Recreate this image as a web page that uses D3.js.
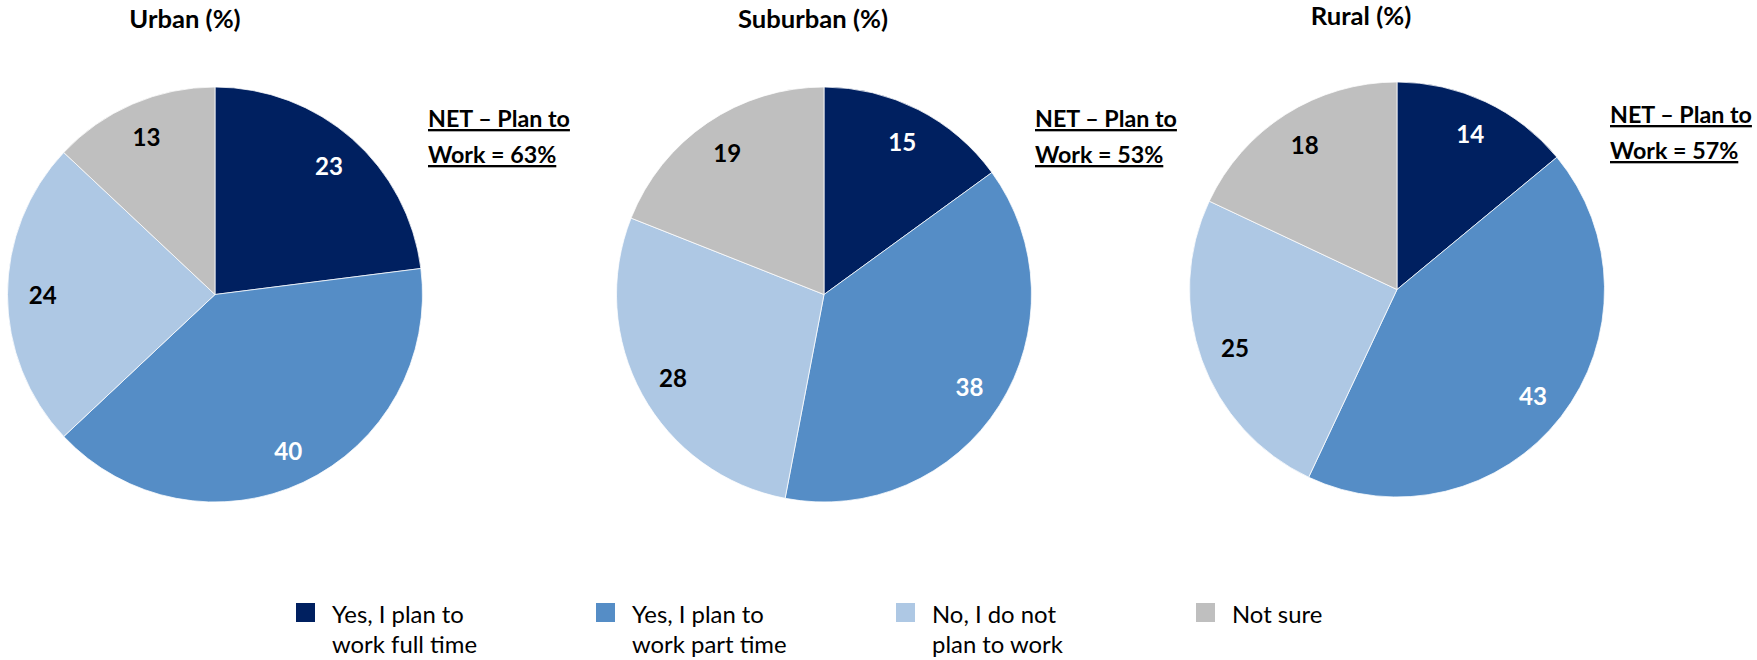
<!DOCTYPE html>
<html>
<head>
<meta charset="utf-8">
<script src="https://cdn.jsdelivr.net/npm/d3@7"></script>
<style>
  html, body { margin: 0; padding: 0; background: #ffffff; }
  svg { display: block; }
  text { font-family: Lato, "Open Sans", sans-serif; }
</style>
</head>
<body>
<svg id="chart" width="1757" height="660"></svg>
<script>
// ---- data ----
const categories = ["Yes, I plan to work full time", "Yes, I plan to work part time", "No, I do not plan to work", "Not sure"];
const legendLines = [["Yes, I plan to", "work full time"], ["Yes, I plan to", "work part time"], ["No, I do not", "plan to work"], ["Not sure"]];
const groups = ["Urban (%)", "Suburban (%)", "Rural (%)"];
const urbanValues = [23, 40, 24, 13];
const suburbanValues = [15, 38, 28, 19];
const ruralValues = [14, 43, 25, 18];
const netValues = [63, 53, 57];
const netLabelLine1 = "NET \u2013 Plan to";

const seriesValues = [urbanValues, suburbanValues, ruralValues];

// ---- styling / layout ----
const colors = ["#002060", "#558DC6", "#AEC8E4", "#BFBFBF"];
const labelColors = ["#ffffff", "#ffffff", "#000000", "#000000"];
const radius = 207.5;
const panels = [
  { cx: 215, cy: 294.5, titleX: 185, titleY: 28, netX: 428, netY: 127 },
  { cx: 824, cy: 294.5, titleX: 813, titleY: 28, netX: 1035, netY: 127 },
  { cx: 1397, cy: 289.5, titleX: 1361, titleY: 25, netX: 1610, netY: 123 }
];

const svg = d3.select("#chart");

// font size so a sample string gets a given width (matches the reference's text extents)
function fitSize(sample, weight, width) {
  const t = svg.append("text").attr("font-size", 100).attr("font-weight", weight).text(sample);
  const w = t.node().getComputedTextLength();
  t.remove();
  return 100 * width / w;
}
const titleSize = fitSize("Suburban (%)", "bold", 150);
const labelSize = fitSize("40", "bold", 28);
const netSize = fitSize(netLabelLine1, "bold", 142);
const legendSize = fitSize("Yes, I plan to", "normal", 132);

const color = d3.scaleOrdinal().domain(categories).range(colors);
const labelColor = d3.scaleOrdinal().domain(categories).range(labelColors);

const pie = d3.pie().sort(null).value(d => d.value);
const arc = d3.arc().innerRadius(0).outerRadius(radius);
const labelArc = d3.arc().innerRadius(radius * 0.83).outerRadius(radius * 0.83);

groups.forEach((g, i) => {
  const p = panels[i];
  const data = categories.map((c, j) => ({ cat: c, value: seriesValues[i][j] }));
  const arcs = pie(data);

  svg.append("text")
    .attr("x", p.titleX).attr("y", p.titleY)
    .attr("text-anchor", "middle")
    .attr("font-size", titleSize).attr("font-weight", "bold")
    .attr("fill", "#000")
    .text(g);

  const gp = svg.append("g").attr("transform", `translate(${p.cx},${p.cy})`);
  gp.selectAll("path").data(arcs).join("path")
    .attr("d", arc)
    .attr("fill", d => color(d.data.cat))
    .attr("stroke", "#ffffff")
    .attr("stroke-width", 0.75);

  gp.selectAll("text.val").data(arcs).join("text")
    .attr("class", "val")
    .attr("transform", d => `translate(${labelArc.centroid(d)})`)
    .attr("text-anchor", "middle")
    .attr("dominant-baseline", "central")
    .attr("font-size", labelSize).attr("font-weight", "bold")
    .attr("fill", d => labelColor(d.data.cat))
    .text(d => d.data.value);

  const net = svg.append("text")
    .attr("x", p.netX).attr("y", p.netY)
    .attr("font-size", netSize).attr("font-weight", "bold")
    .attr("fill", "#000")
    .attr("text-decoration", "underline");
  net.append("tspan").attr("x", p.netX).attr("y", p.netY).text(netLabelLine1);
  net.append("tspan").attr("x", p.netX).attr("y", p.netY + 36).text(`Work = ${netValues[i]}%`);
});

// ---- legend ----
const legendX = [296, 596, 896, 1196];
const legend = svg.append("g");
categories.forEach((c, i) => {
  const lg = legend.append("g").attr("transform", `translate(${legendX[i]},603)`);
  lg.append("rect").attr("x", 0).attr("y", 0).attr("width", 19).attr("height", 19).attr("fill", color(c));
  const t = lg.append("text").attr("font-size", legendSize).attr("fill", "#000");
  legendLines[i].forEach((line, k) => {
    t.append("tspan").attr("x", 36).attr("y", 20 + k * 30).text(line);
  });
});
</script>
</body>
</html>
